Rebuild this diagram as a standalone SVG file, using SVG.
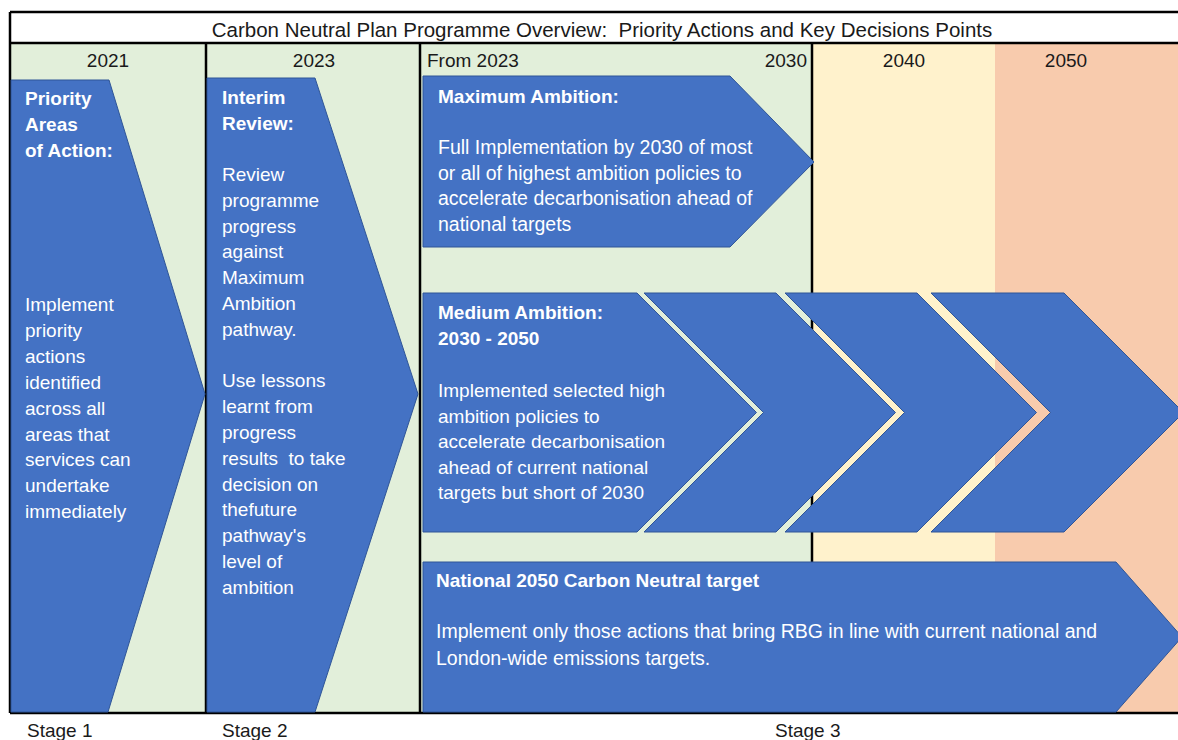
<svg xmlns="http://www.w3.org/2000/svg" width="1178" height="740" viewBox="0 0 1178 740">
<style>
.t{font-family:"Liberation Sans",Arial,sans-serif;font-size:19px;fill:#1a1a1a}
.w{font-family:"Liberation Sans",Arial,sans-serif;font-size:19px;fill:#ffffff}
.b{font-weight:bold}
.shape{fill:#4472C4;stroke:#2F5597;stroke-width:1}
.rule{stroke:#000;stroke-width:2.5;fill:none}
</style>
<rect x="0" y="0" width="1178" height="740" fill="#ffffff"/>
<g id="background">
<rect x="10" y="43" width="802" height="670" fill="#E2EFDA"/>
<rect x="812" y="43" width="183" height="670" fill="#FFF2CC"/>
<rect x="995" y="43" width="183" height="670" fill="#F8CBAD"/>
</g>
<g id="frame">
<line class="rule" x1="10" y1="12" x2="1178" y2="12"/>
<line class="rule" x1="10" y1="43" x2="1178" y2="43"/>
<line class="rule" x1="10" y1="713" x2="1178" y2="713"/>
<line class="rule" x1="10" y1="12" x2="10" y2="713"/>
<line class="rule" x1="206" y1="43" x2="206" y2="713"/>
<line class="rule" x1="420" y1="43" x2="420" y2="713"/>
<line class="rule" x1="812" y1="43" x2="812" y2="713"/>
</g>
<g id="title">
<text class="t" x="602" y="37" text-anchor="middle" xml:space="preserve" style="font-size:20.5px">Carbon Neutral Plan Programme Overview:  Priority Actions and Key Decisions Points</text>
</g>
<g id="headers">
<text class="t" x="108" y="67" text-anchor="middle">2021</text>
<text class="t" x="314" y="67" text-anchor="middle">2023</text>
<text class="t" x="427" y="67">From 2023</text>
<text class="t" x="807" y="67" text-anchor="end">2030</text>
<text class="t" x="904" y="67" text-anchor="middle">2040</text>
<text class="t" x="1066" y="67" text-anchor="middle">2050</text>
</g>
<g id="stage1">
<polygon class="shape" points="11,80 109,80 205,394 108,712 11,712"/>
<text class="w b" x="25" y="105">Priority<tspan x="25" dy="26">Areas</tspan><tspan x="25" dy="26">of Action:</tspan></text>
<text class="w" x="25" y="311">Implement<tspan x="25" dy="25.9">priority</tspan><tspan x="25" dy="25.9">actions</tspan><tspan x="25" dy="25.9">identified</tspan><tspan x="25" dy="25.9">across all</tspan><tspan x="25" dy="25.9">areas that</tspan><tspan x="25" dy="25.9">services can</tspan><tspan x="25" dy="25.9">undertake</tspan><tspan x="25" dy="25.9">immediately</tspan></text>
</g>
<g id="stage2">
<polygon class="shape" points="207,78 315,78 418,394 315,712 207,712"/>
<text class="w b" x="222" y="104">Interim<tspan x="222" dy="26">Review:</tspan></text>
<text class="w" x="222" y="181" xml:space="preserve">Review<tspan x="222" dy="25.8">programme</tspan><tspan x="222" dy="25.8">progress</tspan><tspan x="222" dy="25.8">against</tspan><tspan x="222" dy="25.8">Maximum</tspan><tspan x="222" dy="25.8">Ambition</tspan><tspan x="222" dy="25.8">pathway.</tspan><tspan x="222" dy="51.6">Use lessons</tspan><tspan x="222" dy="25.8">learnt from</tspan><tspan x="222" dy="25.8">progress</tspan><tspan x="222" dy="25.8">results  to take</tspan><tspan x="222" dy="25.8">decision on</tspan><tspan x="222" dy="25.8">thefuture</tspan><tspan x="222" dy="25.8">pathway's</tspan><tspan x="222" dy="25.8">level of</tspan><tspan x="222" dy="25.8">ambition</tspan></text>
</g>
<g id="max-ambition">
<polygon class="shape" points="423,76 730,76 814,162 730,247 423,247"/>
<text class="w b" x="438" y="103">Maximum Ambition:</text>
<text class="w" x="438" y="154" style="font-size:19.5px">Full Implementation by 2030 of most<tspan x="438" dy="25.6">or all of highest ambition policies to</tspan><tspan x="438" dy="25.6">accelerate decarbonisation ahead of</tspan><tspan x="438" dy="25.6">national targets</tspan></text>
</g>
<g id="medium-ambition">
<polygon class="shape" points="1064,293 931,293 1050.5,412.5 931,532 1064,532 1183.5,412.5"/>
<polygon class="shape" points="917,293 785,293 904.5,412.5 785,532 917,532 1036.5,412.5"/>
<polygon class="shape" points="776,293 644,293 763.5,412.5 644,532 776,532 895.5,412.5"/>
<polygon class="shape" points="423,293 637,293 756.5,412.5 637,532 423,532"/>
<text class="w b" x="438" y="319">Medium Ambition:<tspan x="438" dy="26">2030 - 2050</tspan></text>
<text class="w" x="438" y="397">Implemented selected high<tspan x="438" dy="25.6">ambition policies to</tspan><tspan x="438" dy="25.6">accelerate decarbonisation</tspan><tspan x="438" dy="25.6">ahead of current national</tspan><tspan x="438" dy="25.6">targets but short of 2030</tspan></text>
</g>
<g id="national-target">
<polygon class="shape" points="423,562 1116,562 1182,637 1116,712 423,712"/>
<text class="w b" x="436" y="587">National 2050 Carbon Neutral target</text>
<text class="w" x="436" y="638" style="font-size:19.5px">Implement only those actions that bring RBG in line with current national and<tspan x="436" dy="27">London-wide emissions targets.</tspan></text>
</g>
<g id="stages">
<text class="t" x="27" y="737">Stage 1</text>
<text class="t" x="222" y="737">Stage 2</text>
<text class="t" x="775" y="737">Stage 3</text>
</g>
<g id="connectors"></g>
</svg>
